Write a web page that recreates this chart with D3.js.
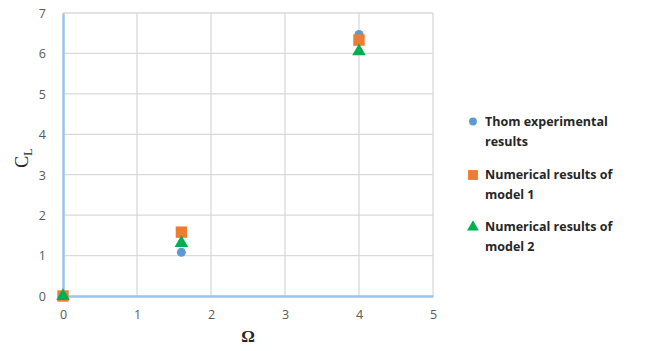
<!DOCTYPE html>
<html><head><meta charset="utf-8">
<script src="https://cdn.jsdelivr.net/npm/d3@7"></script>
<style>body{margin:0;background:#fff}svg{display:block}</style>
</head><body>
<script>
const seriesNames = ["Thom experimental results", "Numerical results of model 1", "Numerical results of model 2"];
const legendLines = [["Thom experimental", "results"], ["Numerical results of", "model 1"], ["Numerical results of", "model 2"]];
const omega = [0, 1.6, 4];
const thomCL = [0, 1.08, 6.47];
const model1CL = [0, 1.58, 6.33];
const model2CL = [0, 1.31, 6.05];
const xTicks = [0, 1, 2, 3, 4, 5];
const yTicks = [0, 1, 2, 3, 4, 5, 6, 7];
const colors = ["#5B9BD5", "#ED7D31", "#00B050"];
const shapes = [d3.symbolCircle, d3.symbolSquare, d3.symbolTriangle];
const sizes = [64, 130, 80];

const W = 656, H = 351;
const svg = d3.select("body").append("svg").attr("width", W).attr("height", H);
const x = d3.scaleLinear().domain([0, 5]).range([63, 433]);
const y = d3.scaleLinear().domain([0, 7]).range([296, 13]);

// grid
svg.append("g").selectAll("line").data(yTicks.filter(d => d > 0)).join("line")
  .attr("x1", x(0)).attr("x2", x(5)).attr("y1", d => y(d)).attr("y2", d => y(d))
  .attr("stroke", "#d9d9d9").attr("stroke-width", 1.3);
svg.append("g").selectAll("line").data(xTicks.filter(d => d > 0)).join("line")
  .attr("x1", d => x(d)).attr("x2", d => x(d)).attr("y1", y(0)).attr("y2", y(7))
  .attr("stroke", "#d9d9d9").attr("stroke-width", 1.3);

// axes
const xAxis = svg.append("g").attr("transform", `translate(0,${y(0)})`)
  .call(d3.axisBottom(x).tickValues(xTicks).tickFormat(d3.format("d")).tickSize(0).tickPadding(14));
const yAxis = svg.append("g").attr("transform", `translate(${x(0)},0)`)
  .call(d3.axisLeft(y).tickValues(yTicks).tickFormat(d3.format("d")).tickSize(0).tickPadding(17));
[xAxis, yAxis].forEach(g => {
  g.select(".domain").attr("stroke", "#9DC3E6").attr("stroke-width", 2.5);
  g.selectAll("text").attr("fill", "#595959").attr("font-family", "Open Sans, sans-serif").attr("font-size", 12.5);
});
yAxis.selectAll("text").attr("dy", "0.35em");

// axis titles
svg.append("text").attr("x", 248).attr("y", 342).attr("text-anchor", "middle")
  .attr("font-family", "Liberation Serif, serif").attr("font-weight", "bold").attr("font-size", 17)
  .attr("fill", "#262626").text("Ω");
const yl = svg.append("text").attr("transform", "translate(28,158) rotate(-90)")
  .attr("text-anchor", "middle").attr("font-family", "Liberation Serif, serif")
  .attr("font-size", 18).attr("fill", "#262626");
yl.append("tspan").text("C");
yl.append("tspan").attr("font-size", 12).attr("dy", 4).text("L");

// data
const data = [thomCL, model1CL, model2CL];
data.forEach((vals, i) => {
  svg.append("g").selectAll("path").data(omega.map((o, j) => [o, vals[j]])).join("path")
    .attr("d", d3.symbol().type(shapes[i]).size(sizes[i]))
    .attr("transform", d => `translate(${x(d[0])},${y(d[1])})`)
    .attr("fill", colors[i]);
});

// legend
const legY = [121.5, 175, 227];
seriesNames.forEach((n, i) => {
  const g = svg.append("g").attr("transform", `translate(473,${legY[i]})`);
  g.append("path").attr("d", d3.symbol().type(shapes[i]).size(sizes[i] * 0.75)).attr("fill", colors[i]);
  const t = g.append("text").attr("x", 12).attr("y", 0)
    .attr("font-family", "Open Sans, sans-serif").attr("font-weight", "bold").attr("font-size", 12.5)
    .attr("fill", "#262626");
  legendLines[i].forEach((l, k) => t.append("tspan").attr("x", 12).attr("dy", k === 0 ? "0.35em" : 20).text(l));
});
</script>
</body></html>
